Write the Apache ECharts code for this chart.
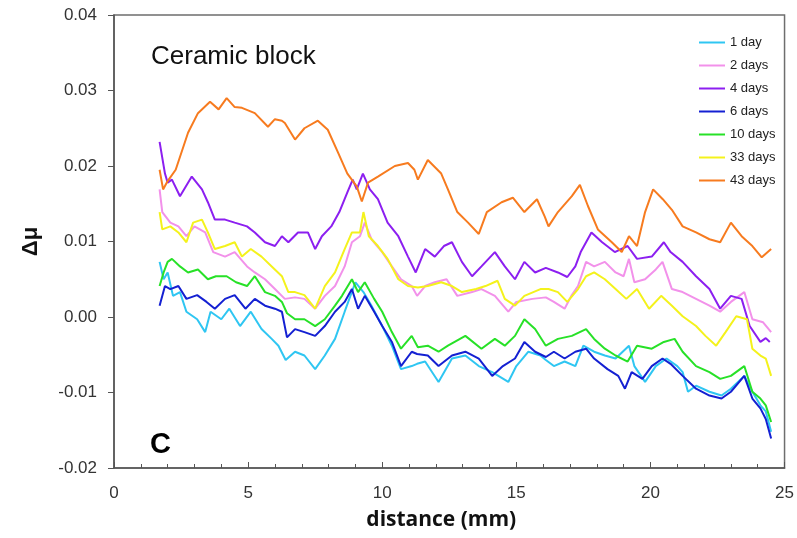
<!DOCTYPE html>
<html>
<head>
<meta charset="utf-8">
<title>Ceramic block</title>
<script src="https://cdn.jsdelivr.net/npm/echarts@6/dist/echarts.min.js"></script>
<style>
  html, body { margin: 0; padding: 0; background: #fff; }
  #chart { width: 797px; height: 538px; }
</style>
</head>
<body>
<div id="chart"></div>
<script>
// series names (legend order)
const seriesNames = ['1 day', '2 days', '4 days', '6 days', '10 days', '33 days', '43 days'];
const seriesColors = ['#2fc6f2', '#f291ea', '#8c1ff0', '#1420d2', '#27e127', '#f4f21c', '#f77b1f'];

// [distance (mm), delta mu]
const day1 = [[1.7,0.0073],[1.85,0.005],[2.0,0.0059],[2.2,0.0028],[2.46,0.0033],[2.7,0.0007],[3.1,-0.0003],[3.4,-0.002],[3.6,0.0007],[4.0,-0.0003],[4.3,0.0011],[4.7,-0.0012],[5.1,0.0007],[5.5,-0.0016],[5.88,-0.0029],[6.13,-0.0038],[6.4,-0.0057],[6.75,-0.0046],[7.1,-0.0051],[7.5,-0.0069],[7.86,-0.0051],[8.24,-0.0029],[8.6,0.0007],[9.0,0.0046],[9.3,0.0033],[9.6,0.0015],[10.0,-0.0012],[10.36,-0.0038],[10.7,-0.0069],[11.1,-0.0065],[11.3,-0.0062],[11.6,-0.0059],[12.1,-0.0086],[12.6,-0.0055],[13.1,-0.0051],[13.6,-0.0065],[14.1,-0.0073],[14.7,-0.0086],[15.0,-0.0065],[15.45,-0.0046],[15.9,-0.0051],[16.1,-0.0057],[16.4,-0.0065],[16.8,-0.0059],[17.2,-0.0065],[17.5,-0.0038],[17.9,-0.0046],[18.3,-0.0051],[18.7,-0.0055],[19.2,-0.0038],[19.4,-0.0065],[19.8,-0.0086],[20.2,-0.0065],[20.6,-0.0055],[21.0,-0.0065],[21.2,-0.0073],[21.4,-0.0099],[21.7,-0.0091],[22.2,-0.0099],[22.65,-0.0104],[23.0,-0.0095],[23.5,-0.0078],[23.8,-0.0099],[24.1,-0.0117],[24.3,-0.0125],[24.5,-0.0152]];
const day2 = [[1.7,0.0169],[1.8,0.0139],[2.1,0.0125],[2.4,0.012],[2.7,0.0107],[3.0,0.012],[3.4,0.0112],[3.7,0.0086],[4.14,0.008],[4.5,0.0086],[4.96,0.0067],[5.25,0.0059],[5.63,0.005],[6.0,0.0037],[6.37,0.0024],[6.75,0.0026],[7.1,0.0024],[7.5,0.0011],[7.86,0.0028],[8.24,0.0041],[8.6,0.0067],[8.87,0.0099],[9.17,0.0107],[9.35,0.0125],[9.6,0.0103],[10.0,0.0086],[10.36,0.0067],[10.7,0.005],[11.1,0.0041],[11.3,0.0028],[11.6,0.0041],[11.96,0.0046],[12.4,0.005],[12.8,0.0028],[13.35,0.0033],[13.7,0.0037],[14.2,0.0028],[14.7,0.0007],[15.0,0.002],[15.6,0.0024],[16.1,0.0026],[16.4,0.002],[16.8,0.0011],[17.05,0.0028],[17.3,0.0041],[17.6,0.0073],[17.9,0.0067],[18.3,0.0073],[18.7,0.0059],[19.0,0.0054],[19.2,0.0077],[19.4,0.0046],[19.8,0.005],[20.2,0.0063],[20.45,0.0073],[20.8,0.0037],[21.2,0.0033],[21.7,0.0024],[22.2,0.0015],[22.6,0.0007],[23.0,0.002],[23.5,0.0033],[23.8,-0.0003],[24.2,-0.0007],[24.5,-0.002]];
const day4 = [[1.7,0.0232],[1.9,0.019],[2.0,0.0178],[2.16,0.0182],[2.46,0.016],[2.9,0.0186],[3.28,0.0169],[3.5,0.0152],[3.76,0.0129],[4.14,0.0129],[4.5,0.0125],[4.96,0.012],[5.25,0.0112],[5.63,0.0099],[6.0,0.0094],[6.26,0.0107],[6.5,0.0099],[6.86,0.0112],[7.23,0.0112],[7.5,0.009],[7.75,0.0107],[8.1,0.012],[8.4,0.0139],[8.7,0.0165],[8.9,0.0182],[9.05,0.0169],[9.28,0.019],[9.54,0.0169],[9.84,0.0156],[10.2,0.0125],[10.6,0.0107],[10.96,0.008],[11.25,0.0059],[11.6,0.009],[11.96,0.008],[12.3,0.0094],[12.6,0.0099],[12.97,0.0073],[13.35,0.0054],[13.7,0.0067],[14.2,0.0086],[14.57,0.0067],[14.95,0.005],[15.3,0.0073],[15.7,0.0059],[16.1,0.0065],[16.55,0.0059],[16.9,0.0053],[17.2,0.0067],[17.4,0.0086],[17.8,0.0112],[18.2,0.0099],[18.67,0.0086],[19.15,0.0094],[19.5,0.0077],[20.05,0.008],[20.5,0.0099],[20.75,0.0086],[21.2,0.0073],[21.7,0.0054],[22.2,0.0037],[22.6,0.0011],[23.0,0.0028],[23.4,0.0024],[23.7,-0.0012],[24.1,-0.0033],[24.3,-0.0028],[24.45,-0.0033]];
const day6 = [[1.7,0.0015],[1.9,0.0041],[2.1,0.0037],[2.4,0.0041],[2.7,0.0024],[3.1,0.0029],[3.45,0.002],[3.76,0.0011],[4.14,0.0024],[4.5,0.0029],[4.9,0.0011],[5.25,0.0024],[5.63,0.0015],[6.0,0.0011],[6.26,0.0007],[6.45,-0.0027],[6.75,-0.0016],[7.1,-0.002],[7.5,-0.0025],[7.86,-0.0012],[8.24,0.0007],[8.6,0.002],[8.87,0.0037],[9.1,0.0011],[9.35,0.0028],[9.7,0.0007],[10.0,-0.0012],[10.36,-0.0033],[10.7,-0.0065],[11.1,-0.0046],[11.3,-0.0049],[11.7,-0.0051],[12.1,-0.0065],[12.6,-0.0051],[13.1,-0.0046],[13.6,-0.0055],[14.1,-0.0078],[14.5,-0.0065],[14.95,-0.0055],[15.3,-0.0033],[15.7,-0.0046],[16.1,-0.0053],[16.4,-0.0046],[16.8,-0.0055],[17.2,-0.0046],[17.6,-0.0042],[17.9,-0.0055],[18.4,-0.0069],[18.8,-0.0078],[19.05,-0.0095],[19.3,-0.0073],[19.7,-0.0082],[20.05,-0.0065],[20.45,-0.0055],[20.75,-0.0062],[21.2,-0.0078],[21.7,-0.0095],[22.2,-0.0104],[22.65,-0.0108],[23.0,-0.0099],[23.5,-0.0078],[23.8,-0.0108],[24.1,-0.0121],[24.3,-0.0135],[24.5,-0.0161]];
const day10 = [[1.7,0.0041],[1.85,0.0059],[2.0,0.0073],[2.16,0.0077],[2.46,0.0067],[2.76,0.0059],[3.13,0.0063],[3.5,0.005],[3.8,0.0054],[4.2,0.0054],[4.55,0.0046],[4.96,0.0041],[5.25,0.0054],[5.63,0.0033],[6.0,0.0028],[6.26,0.002],[6.45,0.0005],[6.75,-0.0003],[7.1,-0.0003],[7.5,-0.0012],[7.86,-0.0003],[8.24,0.0015],[8.5,0.0028],[8.87,0.005],[9.1,0.0033],[9.35,0.0046],[9.7,0.0024],[10.0,0.0007],[10.36,-0.002],[10.7,-0.0042],[11.1,-0.0025],[11.33,-0.004],[11.7,-0.0038],[12.1,-0.0046],[12.45,-0.0038],[13.1,-0.0025],[13.7,-0.0042],[14.2,-0.0029],[14.57,-0.0038],[14.95,-0.0025],[15.3,-0.0003],[15.7,-0.0016],[16.1,-0.0038],[16.55,-0.0029],[17.07,-0.0025],[17.6,-0.0016],[17.9,-0.0029],[18.3,-0.0042],[18.7,-0.0051],[19.15,-0.0059],[19.5,-0.0038],[20.05,-0.0042],[20.5,-0.0033],[20.9,-0.0029],[21.2,-0.0046],[21.7,-0.0065],[22.2,-0.0073],[22.6,-0.0082],[23.0,-0.0078],[23.5,-0.0065],[23.8,-0.0099],[24.1,-0.0108],[24.3,-0.0117],[24.5,-0.0139]];
const day33 = [[1.7,0.0139],[1.8,0.0116],[2.1,0.012],[2.4,0.0112],[2.7,0.0099],[2.95,0.0125],[3.28,0.0129],[3.5,0.0112],[3.76,0.009],[4.14,0.0094],[4.5,0.0099],[4.77,0.008],[5.1,0.009],[5.5,0.008],[5.88,0.0067],[6.26,0.0054],[6.5,0.0033],[6.75,0.0033],[7.1,0.0029],[7.5,0.0011],[7.86,0.0041],[8.24,0.0059],[8.6,0.009],[8.87,0.0112],[9.17,0.0112],[9.3,0.0139],[9.5,0.0107],[9.84,0.0094],[10.2,0.0077],[10.6,0.005],[10.96,0.0041],[11.33,0.0039],[11.7,0.0041],[12.2,0.0046],[12.6,0.0041],[12.97,0.0033],[13.5,0.0037],[13.85,0.0041],[14.3,0.0048],[14.57,0.0024],[14.95,0.0015],[15.3,0.0028],[15.9,0.0037],[16.2,0.0037],[16.55,0.0033],[16.9,0.002],[17.3,0.0037],[17.6,0.0054],[17.9,0.0059],[18.3,0.005],[18.7,0.0037],[19.1,0.0024],[19.5,0.0037],[19.95,0.0011],[20.4,0.0028],[20.8,0.0015],[21.2,0.0001],[21.7,-0.0012],[22.05,-0.0025],[22.45,-0.0038],[22.8,-0.002],[23.2,0.0001],[23.6,-0.0003],[23.8,-0.0042],[24.1,-0.0051],[24.3,-0.0055],[24.5,-0.0078]];
const day43 = [[1.7,0.0195],[1.83,0.0169],[2.0,0.018],[2.3,0.0195],[2.76,0.0244],[3.13,0.027],[3.58,0.0285],[3.9,0.0275],[4.2,0.029],[4.5,0.0278],[4.77,0.0277],[5.25,0.027],[5.74,0.0252],[6.0,0.0262],[6.26,0.026],[6.37,0.0257],[6.75,0.0235],[7.1,0.025],[7.6,0.026],[7.97,0.0248],[8.35,0.0218],[8.7,0.019],[9.05,0.0173],[9.24,0.0153],[9.47,0.0178],[9.84,0.0186],[10.47,0.02],[10.96,0.0204],[11.2,0.0195],[11.33,0.0182],[11.7,0.0208],[12.2,0.019],[12.45,0.0169],[12.8,0.0139],[13.2,0.0125],[13.6,0.011],[13.9,0.0139],[14.45,0.0152],[14.87,0.0158],[15.3,0.0139],[15.77,0.0156],[16.06,0.0133],[16.2,0.012],[16.55,0.0139],[17.07,0.016],[17.37,0.0175],[17.67,0.0147],[18.04,0.0116],[18.56,0.0099],[18.93,0.0086],[19.2,0.0107],[19.5,0.0094],[19.8,0.0139],[20.1,0.0169],[20.46,0.0156],[20.8,0.0142],[21.2,0.012],[21.7,0.0112],[22.2,0.0103],[22.6,0.0099],[23.0,0.0125],[23.4,0.0107],[23.8,0.0094],[24.15,0.0079],[24.5,0.009]];

const seriesData = [day1, day2, day4, day6, day10, day33, day43];

// axis ticks
const xMin = 0, xMax = 25, xStep = 5;
const yMin = -0.02, yMax = 0.04, yStep = 0.01;

const chart = echarts.init(document.getElementById('chart'));

const font = '"Liberation Sans", Arial, Helvetica, sans-serif';

const option = {
    backgroundColor: '#fff',
    animation: false,
    grid: {
        left: 114, right: 12, top: 15, bottom: 70,
        show: true,
        borderColor: '#6e6e6e',
        borderWidth: 1.5,
        backgroundColor: 'transparent'
    },
    legend: {
        orient: 'vertical',
        left: 694,
        top: 30,
        itemWidth: 26,
        itemHeight: 2,
        itemGap: 8,
        icon: 'rect',
        textStyle: { fontFamily: font, fontSize: 13, color: '#222', lineHeight: 15 },
        data: seriesNames
    },
    xAxis: {
        type: 'value',
        min: xMin, max: xMax, interval: xStep,
        name: 'distance (mm)',
        nameLocation: 'middle',
        nameGap: 42,
        nameTextStyle: { fontFamily: '"Open Sans", "Noto Sans", sans-serif', fontWeight: 'bold', fontSize: 21, color: '#111', padding: [0, 16, 0, 0] },
        axisLine: { onZero: false, lineStyle: { color: '#555', width: 1.5 } },
        axisTick: { inside: true, length: 6, lineStyle: { color: '#555' } },
        minorTick: { show: true, splitNumber: 5, length: 4, lineStyle: { color: '#555' } },
        axisLabel: { margin: 17, fontFamily: font, fontSize: 17, color: '#333' },
        splitLine: { show: false }
    },
    yAxis: {
        type: 'value',
        min: yMin, max: yMax, interval: yStep,
        name: 'Δμ',
        nameLocation: 'middle',
        nameGap: 72,
        nameRotate: 90,
        nameTextStyle: { fontFamily: font, fontWeight: 'bold', fontSize: 22, color: '#111' },
        axisLine: { onZero: false, lineStyle: { color: '#555', width: 1.5 } },
        axisTick: { inside: false, length: 6, lineStyle: { color: '#555' } },
        axisLabel: {
            margin: 17, fontFamily: font, fontSize: 17, color: '#333',
            formatter: (v) => v.toFixed(2)
        },
        splitLine: { show: false }
    },
    graphic: [
        {
            type: 'text', left: 151, top: 44, silent: true,
            style: { text: 'Ceramic block', font: '26px "Liberation Sans", Arial, sans-serif', fill: '#111' }
        },
        {
            type: 'text', left: 150, top: 430, silent: true,
            style: { text: 'C', font: 'bold 29px "Liberation Sans", Arial, sans-serif', fill: '#000' }
        }
    ],
    series: seriesNames.map((name, i) => ({
        name: name,
        type: 'line',
        data: seriesData[i],
        showSymbol: false,
        symbol: 'none',
        color: seriesColors[i],
        lineStyle: { width: 2, color: seriesColors[i] }
    }))
};

chart.setOption(option);
</script>
</body>
</html>
